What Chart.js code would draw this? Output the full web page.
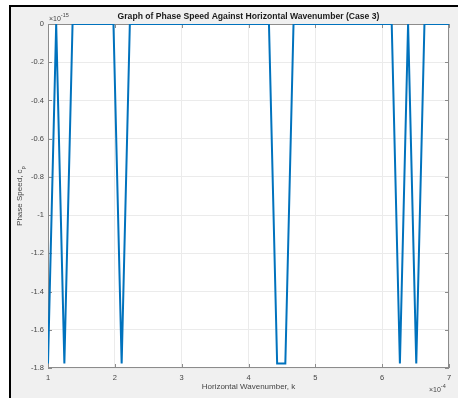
<!DOCTYPE html>
<html>
<head>
<meta charset="utf-8">
<script src="https://cdn.jsdelivr.net/npm/chart.js@4/dist/chart.umd.min.js"></script>
<style>
  html, body { margin: 0; padding: 0; background: #fff; }
  #wrap { width: 458px; height: 398px; }
</style>
</head>
<body>
<div id="wrap"><canvas id="myChart"></canvas></div>
<script>
// horizontal wavenumber k, in units of 1e-4
const wavenumber = [
  1.0000, 1.1224, 1.2449, 1.3673, 1.4898, 1.6122, 1.7347, 1.8571, 1.9796, 2.1020,
  2.2245, 2.3469, 2.4694, 2.5918, 2.7143, 2.8367, 2.9592, 3.0816, 3.2041, 3.3265,
  3.4490, 3.5714, 3.6939, 3.8163, 3.9388, 4.0612, 4.1837, 4.3061, 4.4286, 4.5510,
  4.6735, 4.7959, 4.9184, 5.0408, 5.1633, 5.2857, 5.4082, 5.5306, 5.6531, 5.7755,
  5.8980, 6.0204, 6.1429, 6.2653, 6.3878, 6.5102, 6.6327, 6.7551, 6.8776, 7.0000
];
// phase speed c_p, in units of 1e-15
const phaseSpeed = [
  -1.7764, 0, -1.7764, 0, 0, 0, 0, 0, 0, -1.7764,
  0, 0, 0, 0, 0, 0, 0, 0, 0, 0,
  0, 0, 0, 0, 0, 0, 0, 0, -1.7764, -1.7764,
  0, 0, 0, 0, 0, 0, 0, 0, 0, 0,
  0, 0, 0, -1.7764, 0, -1.7764, 0, 0, 0, 0
];
const xTicks = [1, 2, 3, 4, 5, 6, 7];
const yTicks = [0, -0.2, -0.4, -0.6, -0.8, -1, -1.2, -1.4, -1.6, -1.8];

const titleText = 'Graph of Phase Speed Against Horizontal Wavenumber (Case 3)';
const xTitle = 'Horizontal Wavenumber, k';
const yTitle = 'Phase Speed, c';

const FONT = '"Liberation Sans", Arial, Helvetica, sans-serif';

const matlabFrame = {
  id: 'matlabFrame',
  beforeDraw(chart) {
    const ctx = chart.ctx, a = chart.chartArea;
    ctx.save();
    ctx.fillStyle = '#ffffff';
    ctx.fillRect(0, 0, chart.width, chart.height);
    ctx.fillStyle = '#f0f0f0';
    ctx.fillRect(10, 6, chart.width - 10, chart.height - 6);
    // black window edge
    ctx.fillStyle = '#000000';
    ctx.fillRect(9, 5, chart.width - 9, 2);
    ctx.fillRect(9, 5, 2, chart.height - 5);
    // axes background
    ctx.fillStyle = '#ffffff';
    ctx.fillRect(a.left, a.top, a.right - a.left, a.bottom - a.top);
    ctx.restore();
  },
  beforeDatasetsDraw(chart) {
    const ctx = chart.ctx, a = chart.chartArea;
    const xs = chart.scales.x, ys = chart.scales.y;
    ctx.save();
    ctx.strokeStyle = '#8c8c8c';
    ctx.lineWidth = 1;
    ctx.strokeRect(a.left + 0.5, a.top + 0.5, a.right - a.left - 1, a.bottom - a.top - 1);
    // inward tick marks
    ctx.beginPath();
    xTicks.forEach(v => {
      const px = Math.round(xs.getPixelForValue(v)) + 0.5;
      ctx.moveTo(px, a.bottom); ctx.lineTo(px, a.bottom - 4);
      ctx.moveTo(px, a.top); ctx.lineTo(px, a.top + 4);
    });
    yTicks.forEach(v => {
      const py = Math.round(ys.getPixelForValue(v)) + 0.5;
      ctx.moveTo(a.left, py); ctx.lineTo(a.left + 4, py);
      ctx.moveTo(a.right, py); ctx.lineTo(a.right - 4, py);
    });
    ctx.stroke();
    ctx.restore();
  },
  afterDraw(chart) {
    const ctx = chart.ctx, a = chart.chartArea;
    const cx = (a.left + a.right) / 2, cy = (a.top + a.bottom) / 2;
    ctx.save();
    ctx.textBaseline = 'middle';

    // title
    ctx.fillStyle = '#1a1a1a';
    ctx.font = 'bold 8.6px ' + FONT;
    ctx.textAlign = 'center';
    ctx.fillText(titleText, cx, 17);

    ctx.fillStyle = '#444444';
    // x axis label
    ctx.font = '8px ' + FONT;
    ctx.fillText(xTitle, cx, 387);

    // y axis label with subscript
    ctx.translate(20, cy);
    ctx.rotate(-Math.PI / 2);
    ctx.font = '8px ' + FONT;
    const w1 = ctx.measureText(yTitle).width;
    ctx.font = '6px ' + FONT;
    const w2 = ctx.measureText('p').width;
    const start = -(w1 + w2) / 2;
    ctx.textAlign = 'left';
    ctx.font = '8px ' + FONT;
    ctx.fillText(yTitle, start, 0);
    ctx.font = '6px ' + FONT;
    ctx.fillText('p', start + w1, 3);
    ctx.setTransform(1, 0, 0, 1, 0, 0);

    // exponent multipliers
    ctx.textAlign = 'left';
    ctx.font = '7px ' + FONT;
    ctx.fillText('\u00d710', a.left + 1, 19);
    let w = ctx.measureText('\u00d710').width;
    ctx.font = '5.5px ' + FONT;
    ctx.fillText('-15', a.left + 1 + w, 15);

    ctx.font = '7px ' + FONT;
    ctx.fillText('\u00d710', 429, 390);
    w = ctx.measureText('\u00d710').width;
    ctx.font = '5.5px ' + FONT;
    ctx.fillText('-4', 429 + w, 386);
    ctx.restore();
  }
};

const config = {
  type: 'line',
  data: {
    datasets: [{
      data: wavenumber.map((k, i) => ({ x: k, y: phaseSpeed[i] })),
      borderColor: '#0072BD',
      borderWidth: 2,
      pointRadius: 0,
      tension: 0,
      fill: false
    }]
  },
  options: {
    responsive: true,
    maintainAspectRatio: false,
    animation: false,
    devicePixelRatio: 1,
    layout: { padding: { top: 24, right: 9, left: 0, bottom: 0 } },
    plugins: {
      legend: { display: false },
      tooltip: { enabled: false }
    },
    scales: {
      x: {
        type: 'linear',
        min: 1,
        max: 7,
        afterFit: s => { s.height = 30; },
        afterBuildTicks: s => { s.ticks = xTicks.map(v => ({ value: v })); },
        grid: { color: '#ebebeb', drawTicks: false },
        border: { display: false },
        ticks: {
          padding: 5,
          color: '#444444',
          font: { family: FONT, size: 7.5 },
          callback: v => String(v)
        }
      },
      y: {
        type: 'linear',
        min: -1.8,
        max: 0,
        afterFit: s => { s.width = 48; },
        afterBuildTicks: s => { s.ticks = yTicks.map(v => ({ value: v })); },
        grid: { color: '#ebebeb', drawTicks: false },
        border: { display: false },
        ticks: {
          padding: 4,
          color: '#444444',
          font: { family: FONT, size: 7.5 },
          callback: v => String(v)
        }
      }
    }
  },
  plugins: [matlabFrame]
};

const myChart = new Chart(document.getElementById('myChart'), config);
</script>
</body>
</html>
